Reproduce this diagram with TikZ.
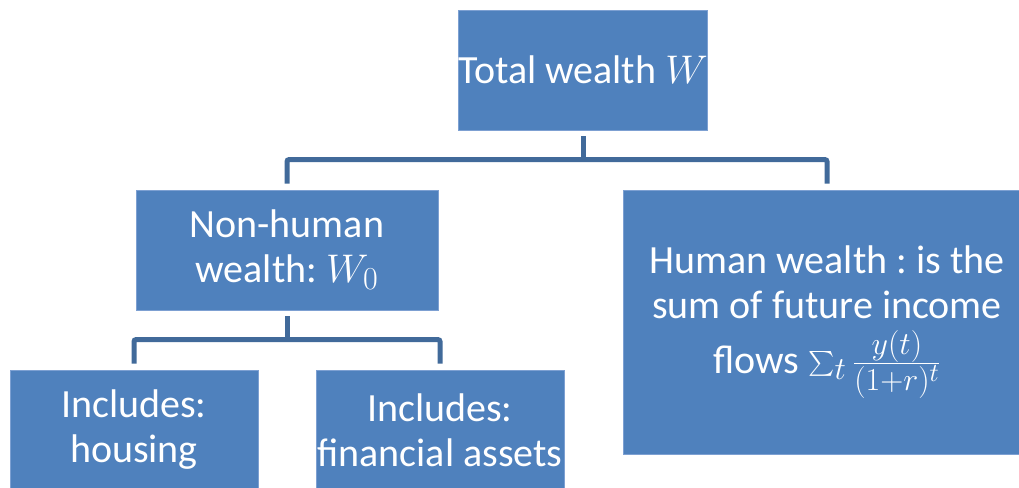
\documentclass[tikz,border=0pt]{standalone}
\usepackage{fix-cm}
\usepackage{amsmath}
\usepackage{exscale}
\usepackage{fontspec}
\setmainfont{Carlito}
\DeclareMathSizes{40}{40}{32}{26}
\frenchspacing
\definecolor{boxblue}{RGB}{79,129,189}
\definecolor{boxedge}{RGB}{125,160,210}
\definecolor{connblue}{RGB}{65,106,154}
\begin{document}
\begin{tikzpicture}[x=1pt,y=-1pt,
  box/.style={fill=boxblue, draw=boxedge, line width=0.8pt, text=white, align=center,
    font=\fontsize{40}{45}\selectfont, inner sep=0pt},
  conn/.style={draw=connblue, line width=5pt, rounded corners=2pt}]
\useasboundingbox (0,0) rectangle (1019,487);
\clip (0,0) rectangle (1019,487);
\node[box, minimum width=248pt, minimum height=120pt] (top) at (583,70) {Total wealth $W$};
\node[box, minimum width=302pt, minimum height=120pt] (nh) at (287,250) {Non-human\\wealth: $W_0$};
\node[box, minimum width=408pt, minimum height=264pt] (hw) at (827,322) {Human wealth : is the\\sum of future income\\[10pt]flows $\sum_t\frac{y(t)}{(1+r)^t}$};
\node[box, minimum width=248pt, minimum height=120pt] (hs) at (134,430) {Includes:\\housing};
\node[box, minimum width=248pt, minimum height=120pt] (fa) at (440,430) {Includes:\\financial assets};
\draw[conn] ([yshift=-6pt]top.south) -- ([yshift=-30pt]top.south);
\draw[conn] ([yshift=6pt]nh.north) -- ([yshift=30pt]nh.north) -| ([yshift=6pt]hw.north);
\draw[conn] ([yshift=-6pt]nh.south) -- ([yshift=-30pt]nh.south);
\draw[conn] ([yshift=6pt]hs.north) -- ([yshift=30pt]hs.north) -| ([yshift=6pt]fa.north);
\end{tikzpicture}
\end{document}
